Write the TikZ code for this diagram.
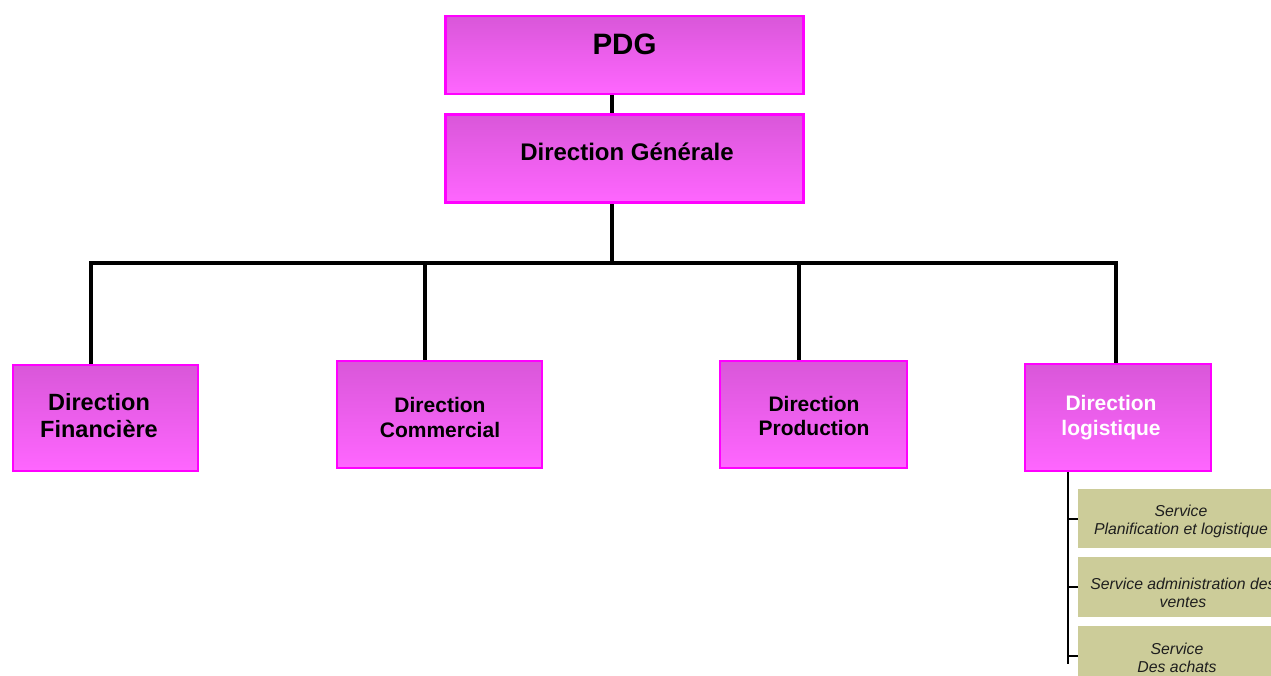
\documentclass[tikz,border=0pt]{standalone}
\usepackage{fontspec}
\setmainfont{Liberation Sans}
\definecolor{boxtop}{RGB}{217,87,217}
\definecolor{boxbot}{RGB}{255,102,255}
\definecolor{boxedge}{RGB}{255,0,255}
\definecolor{servfill}{RGB}{204,204,153}
\definecolor{servtext}{RGB}{30,30,30}
\pgfdeclarelayer{bg}
\pgfsetlayers{bg,main}
\begin{document}
\begin{tikzpicture}[x=1pt,y=-1pt,
  dirbox/.style={rectangle, draw=boxedge, line width=2.5pt,
    top color=boxtop, bottom color=boxbot, inner sep=0pt},
  servbox/.style={rectangle, fill=servfill, inner sep=0pt,
    minimum width=206pt},
  dirtext/.style={align=center, inner sep=0pt, font=\bfseries},
  servlabel/.style={align=center, inner sep=0pt, text=servtext,
    font=\itshape\fontsize{15.8}{18}\selectfont},
  link/.style={line width=4pt, black},
  stack/.style={line width=2pt, black}]
\useasboundingbox (0,0) rectangle (1271,676);
\clip (0,0) rectangle (1271,676);

% management boxes
\node[dirbox, minimum width=358pt, minimum height=78pt] (pdg) at (624.5,55) {};
\node[dirbox, minimum width=358pt, minimum height=88pt] (dg) at (624.5,158.5) {};
\node[dirbox, minimum width=185pt, minimum height=106pt] (fin) at (105.5,418) {};
\node[dirbox, minimum width=205pt, minimum height=107pt] (com) at (439.5,414.5) {};
\node[dirbox, minimum width=187pt, minimum height=107pt] (prod) at (813.5,414.5) {};
\node[dirbox, minimum width=186pt, minimum height=107pt] (log) at (1118,417.5) {};

\node[dirtext, font=\bfseries\fontsize{29.5}{34}\selectfont] (pdgtext) at (624.5,44) {PDG};
\node[dirtext, font=\bfseries\fontsize{24}{28}\selectfont] (dgtext) at (627,152) {Direction Générale};
\node[dirtext, font=\bfseries\fontsize{23.5}{27}\selectfont] (fintext) at (99,415.5) {Direction\\Financière};
\node[dirtext, font=\bfseries\fontsize{21}{25}\selectfont] (comtext) at (440,417.5) {Direction\\Commercial};
\node[dirtext, font=\bfseries\fontsize{21}{24}\selectfont] (prodtext) at (814,416) {Direction\\Production};
\node[dirtext, text=white, font=\bfseries\fontsize{21}{25}\selectfont] (logtext) at (1111,417.5) {Direction\\logistique};

% services under the logistics department
\node[servbox, minimum height=59pt] (s1) at (1181,518.5) {};
\node[servbox, minimum height=60pt] (s2) at (1181,587) {};
\node[servbox, minimum height=59pt] (s3) at (1181,655.5) {};
\node[servlabel] (s1text) at (1181,521) {Service\\Planification et logistique};
\node[servlabel] (s2text) at (1183,593) {Service administration des\\ventes};
\node[servlabel] (s3text) at (1177,657.5) {Service\\Des achats};

% connectors
\coordinate (hub) at (612,263);
\coordinate (b1) at (91,263);
\coordinate (b2) at (425,263);
\coordinate (b3) at (799,263);
\coordinate (b4) at (1116,263);
\coordinate (sx) at (1068,0);
\coordinate (send) at (1068,664);
\begin{pgfonlayer}{bg}
\draw[link] (hub |- pdg.south) -- (hub |- dg.north);
\draw[link] (hub |- dg.south) -- (hub);
\draw[link] (b1 |- fin.north) -- (b1) -- (b4) -- (b4 |- log.north);
\draw[link] (b2) -- (b2 |- com.north);
\draw[link] (b3) -- (b3 |- prod.north);
\draw[stack] (sx |- log.south) -- (send);
\draw[stack] (sx |- s1.west) -- (s1.west);
\draw[stack] (sx |- s2.west) -- (s2.west);
\draw[stack] (sx |- s3.west) -- (s3.west);
\end{pgfonlayer}
\end{tikzpicture}
\end{document}
